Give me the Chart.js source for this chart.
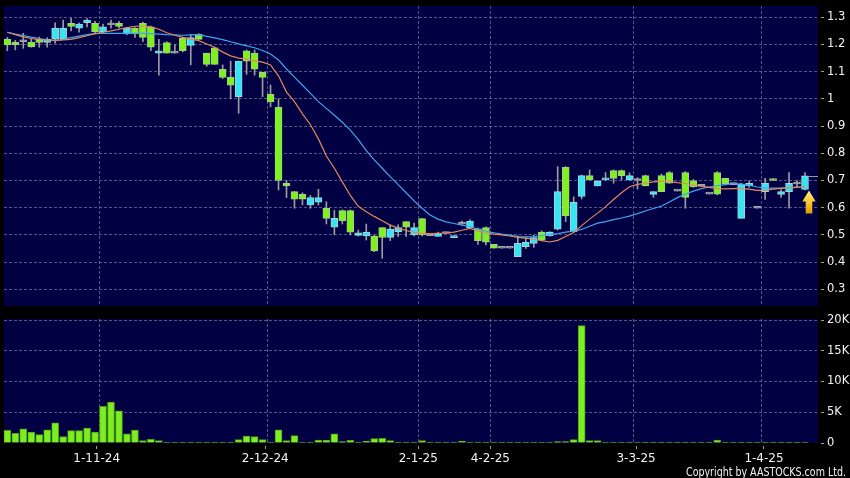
<!DOCTYPE html>
<html><head><meta charset="utf-8">
<script src="https://cdn.jsdelivr.net/npm/chart.js@4.4.1/dist/chart.umd.min.js"></script>
<style>
html,body{margin:0;padding:0;background:#000;width:850px;height:478px;overflow:hidden}
#wrapA{position:absolute;left:0;top:0;width:850px;height:306px}
#wrapB{position:absolute;left:0;top:306px;width:850px;height:172px}
canvas{display:block}
</style></head><body>
<div id="wrapA"><canvas id="price" width="850" height="306"></canvas></div>
<div id="wrapB"><canvas id="vol" width="850" height="172"></canvas></div>
<script>
// ---- data (one entry per trading session) ----
const opens = [1.22,1.208,1.21,1.208,1.219,1.208,1.22,1.22,1.278,1.26,
1.28,1.278,1.247,1.272,1.278,1.239,1.26,1.278,1.265,1.168,
1.207,1.168,1.223,1.197,1.237,1.168,1.188,1.109,1.079,1.008,
1.177,1.168,1.098,1.017,0.969,0.69,0.659,0.649,0.61,0.62,
0.598,0.528,0.589,0.589,0.498,0.496,0.496,0.527,0.491,0.511,
0.549,0.5,0.56,0.497,0.494,0.505,0.49,0.539,0.527,0.522,
0.527,0.465,0.451,0.451,0.42,0.457,0.469,0.51,0.497,0.521,
0.748,0.512,0.641,0.718,0.68,0.702,0.736,0.736,0.702,0.70,
0.718,0.649,0.718,0.729,0.661,0.729,0.699,0.679,0.65,0.729,
0.708,0.685,0.561,0.68,0.598,0.659,0.706,0.649,0.659,0.687,0.667];
const highs = [1.226,1.215,1.241,1.22,1.227,1.225,1.28,1.29,1.296,1.28,
1.295,1.285,1.275,1.29,1.285,1.262,1.262,1.282,1.268,1.219,
1.21,1.2,1.226,1.237,1.24,1.168,1.19,1.125,1.139,1.139,
1.18,1.18,1.098,1.051,1.0,0.70,0.659,0.655,0.645,0.668,
0.622,0.59,0.592,0.592,0.518,0.54,0.5,0.527,0.537,0.537,
0.549,0.543,0.561,0.497,0.51,0.505,0.497,0.551,0.555,0.525,
0.53,0.465,0.451,0.451,0.497,0.49,0.5,0.515,0.512,0.751,
0.751,0.64,0.72,0.739,0.70,0.729,0.739,0.739,0.728,0.71,
0.72,0.659,0.724,0.733,0.661,0.733,0.704,0.679,0.65,0.733,
0.708,0.685,0.69,0.698,0.598,0.708,0.706,0.667,0.729,0.70,0.729];
const lows = [1.177,1.18,1.186,1.19,1.19,1.19,1.205,1.22,1.25,1.245,
1.265,1.24,1.24,1.26,1.26,1.236,1.226,1.21,1.177,1.087,
1.168,1.168,1.173,1.125,1.219,1.12,1.127,1.075,1.0,0.947,
1.09,1.087,1.008,0.971,0.665,0.637,0.598,0.61,0.598,0.61,
0.54,0.5,0.54,0.5,0.496,0.481,0.438,0.414,0.479,0.494,
0.494,0.496,0.496,0.497,0.494,0.505,0.49,0.539,0.525,0.465,
0.463,0.451,0.451,0.451,0.42,0.45,0.454,0.478,0.495,0.518,
0.549,0.508,0.632,0.702,0.68,0.70,0.69,0.702,0.70,0.668,
0.68,0.638,0.659,0.69,0.661,0.598,0.675,0.679,0.65,0.647,
0.687,0.685,0.561,0.675,0.598,0.63,0.70,0.638,0.598,0.675,0.665];
const closes = [1.198,1.198,1.21,1.191,1.208,1.219,1.26,1.26,1.266,1.275,
1.29,1.247,1.265,1.272,1.266,1.26,1.239,1.226,1.19,1.177,
1.168,1.168,1.177,1.225,1.219,1.127,1.127,1.079,1.05,1.139,
1.139,1.109,1.079,0.989,0.70,0.68,0.631,0.631,0.637,0.637,
0.561,0.561,0.552,0.51,0.508,0.51,0.441,0.491,0.521,0.527,
0.528,0.527,0.5,0.497,0.506,0.505,0.497,0.539,0.551,0.479,
0.473,0.451,0.451,0.451,0.469,0.473,0.49,0.481,0.51,0.659,
0.57,0.62,0.718,0.702,0.698,0.708,0.708,0.718,0.718,0.70,
0.68,0.659,0.659,0.69,0.661,0.638,0.677,0.679,0.65,0.65,
0.687,0.685,0.687,0.69,0.598,0.69,0.70,0.659,0.69,0.687,0.717];
const volumes = [2050,1570,2320,1780,1350,2160,3300,1030,2000,2000,
2430,1780,5950,6650,5240,1510,2100,380,600,380,
160,160,50,160,20,30,100,50,160,540,
1130,1030,540,160,2160,380,1190,160,20,490,
490,1510,220,430,160,320,700,760,380,160,
30,20,380,10,10,50,10,320,20,20,
20,20,10,10,160,50,50,20,20,220,
220,540,19080,380,380,20,100,100,50,160,
20,20,100,20,10,100,20,10,20,490,
20,10,50,20,10,20,20,20,50,50,20];
const maShort = [1.245,1.236,1.228,1.222,1.218,1.216,1.215,1.217,1.219,1.225,
1.232,1.240,1.245,1.250,1.256,1.262,1.267,1.268,1.265,1.256,
1.243,1.234,1.226,1.220,1.214,1.202,1.190,1.172,1.158,1.150,
1.146,1.140,1.135,1.125,1.085,1.025,0.990,0.945,0.905,0.853,
0.790,0.745,0.695,0.645,0.605,0.585,0.568,0.552,0.536,0.525,
0.516,0.509,0.505,0.505,0.506,0.507,0.510,0.517,0.524,0.515,
0.507,0.503,0.500,0.496,0.491,0.488,0.484,0.479,0.474,0.480,
0.494,0.509,0.534,0.558,0.580,0.604,0.630,0.655,0.677,0.686,
0.690,0.695,0.698,0.697,0.692,0.689,0.683,0.679,0.675,0.670,
0.669,0.670,0.671,0.668,0.664,0.664,0.668,0.671,0.673,0.675,0.677];
const maLong = [1.245,1.238,1.233,1.227,1.222,1.217,1.214,1.219,1.225,1.231,
1.236,1.240,1.241,1.241,1.241,1.241,1.241,1.241,1.240,1.238,
1.236,1.235,1.234,1.235,1.236,1.230,1.224,1.218,1.210,1.202,
1.195,1.188,1.178,1.165,1.143,1.110,1.080,1.050,1.020,0.990,
0.965,0.940,0.914,0.885,0.850,0.810,0.776,0.745,0.714,0.685,
0.655,0.625,0.598,0.573,0.558,0.548,0.542,0.536,0.530,0.521,
0.513,0.508,0.503,0.499,0.494,0.493,0.493,0.497,0.501,0.505,
0.510,0.514,0.520,0.532,0.543,0.549,0.556,0.562,0.569,0.578,
0.588,0.597,0.606,0.621,0.637,0.650,0.661,0.670,0.676,0.681,
0.685,0.689,0.687,0.683,0.676,0.673,0.672,0.672,0.674,0.676,0.678];
const dateLabels = ['1-11-24','2-12-24','2-1-25','4-2-25','3-3-25','1-4-25'];
const dateTickIdx = [11.21,32.34,51.52,60.55,78.82,94.86];
const dateGridIdx = [11.53,32.59,51.51,60.54,78.46,94.51];
const priceTicks = [0.3,0.4,0.5,0.6,0.7,0.8,0.9,1.0,1.1,1.2,1.3];
const volumeTicks = [0,5000,10000,15000,20000];
const COPYRIGHT = 'Copyright by AASTOCKS.com Ltd.';

// ---- styles ----
const GREEN = '#7df21b', CYAN = '#38e4f2', DOJI = '#a8a8a8', WICK = '#9c9c9c';
const GRID = 'rgba(118,118,160,0.72)', NAVY = '#000042', TXT = '#f2f2f2', TICKC = '#a0a0a0';
const FONT = "'DejaVu Sans', sans-serif";
const X_MIN = -0.414, X_MAX = 101.63;

const navyBg = {id:'navyBg', beforeDraw(c){const a=c.chartArea, ctx=c.ctx; ctx.save(); ctx.fillStyle=NAVY; ctx.fillRect(a.left,a.top,a.right-a.left,a.bottom-a.top); ctx.restore();}};

const lastMarker = {
  id:'lastMarker',
  afterDatasetsDraw(chart){
    const {ctx, chartArea:a, scales:{x,y}} = chart;
    const n = closes.length-1;
    const cx = x.getPixelForValue(n);
    const yc = Math.round(y.getPixelForValue(closes[n]))+0.5;
    ctx.save();
    ctx.strokeStyle = WICK; ctx.lineWidth = 1;
    ctx.beginPath(); ctx.moveTo(cx+3.5, yc); ctx.lineTo(a.right, yc); ctx.stroke();
    const tx = cx+4, ty = y.getPixelForValue(lows[n])+0.5;
    const g = ctx.createLinearGradient(0, ty, 0, ty+23);
    g.addColorStop(0,'#fff27e'); g.addColorStop(0.5,'#f8c832'); g.addColorStop(1,'#e39a00');
    ctx.fillStyle = g;
    ctx.beginPath();
    ctx.moveTo(tx,ty); ctx.lineTo(tx+6.7,ty+11); ctx.lineTo(tx+3.3,ty+11); ctx.lineTo(tx+3.3,ty+23);
    ctx.lineTo(tx-3.3,ty+23); ctx.lineTo(tx-3.3,ty+11); ctx.lineTo(tx-6.7,ty+11); ctx.closePath();
    ctx.fill();
    ctx.restore();
  }
};

const copyrightPlugin = {
  id:'copyright',
  afterDraw(chart){
    const ctx = chart.ctx;
    ctx.save();
    ctx.font = "12px 'DejaVu Sans', sans-serif";
    ctx.fillStyle = TXT; ctx.textAlign = 'right'; ctx.textBaseline = 'alphabetic';
    ctx.fillText(COPYRIGHT, 846, chart.height - 2.5, 160);
    ctx.restore();
  }
};

function candleColor(ctx){
  const i = ctx.dataIndex;
  if (i === undefined) return GREEN;
  const o = opens[i], c = closes[i];
  return c > o ? CYAN : (c < o ? GREEN : DOJI);
}
function candleBorder(ctx){
  const i = ctx.dataIndex;
  if (i === undefined) return DOJI;
  const o = opens[i], c = closes[i];
  return c > o ? '#9fd6dc' : (c < o ? '#a6cf8c' : DOJI);
}
function zeroPad(s){ s.paddingTop = 0; s.paddingBottom = 0; s.paddingLeft = 0; s.paddingRight = 0; }

new Chart(document.getElementById('price'), {
  type:'bar',
  plugins:[navyBg, lastMarker],
  data:{datasets:[
    {type:'line', data: maShort.map((v,i)=>({x:i,y:v})), borderColor:'#e3895e', borderWidth:1.2, pointRadius:0, tension:0, order:0},
    {type:'line', data: maLong.map((v,i)=>({x:i,y:v})), borderColor:'#3fa6ee', borderWidth:1.2, pointRadius:0, tension:0, order:0},
    {data: opens.map((o,i)=>({x:i,y:[o,closes[i]]})), backgroundColor:candleColor, borderColor:candleBorder, borderWidth:1,
     borderSkipped:false, barThickness:7, minBarLength:2, grouped:false, order:1},
    {data: lows.map((l,i)=>({x:i,y:[l,highs[i]]})), backgroundColor:WICK, borderWidth:0, barThickness:1, grouped:false, order:2}
  ]},
  options:{
    responsive:false, animation:false, devicePixelRatio:1,
    layout:{padding:{left:4, top:6, right:0, bottom:0}},
    plugins:{legend:{display:false}, tooltip:{enabled:false}},
    scales:{
      x:{type:'linear', min:X_MIN, max:X_MAX, offset:false,
         afterBuildTicks:s=>{s.ticks = dateGridIdx.map(v=>({value:v}));},
         afterFit:s=>{s.height = 0; zeroPad(s);},
         ticks:{display:false},
         grid:{offset:false, color:GRID, drawTicks:false, lineWidth:1},
         border:{display:false, dash:[3,2]}},
      y:{type:'linear', position:'right', min:0.2386, max:1.3415,
         afterBuildTicks:s=>{s.ticks = priceTicks.map(v=>({value:v}));},
         afterFit:s=>{s.width = 32; zeroPad(s);},
         ticks:{color:TXT, font:{family:FONT, size:11.5}, padding:3, callback:v=>String(Math.round(v*10)/10)},
         grid:{color:GRID, tickColor:TICKC, tickLength:6, tickBorderDash:[0,3,3,100]},
         border:{display:false, dash:[3,2]}}
    }
  }
});

new Chart(document.getElementById('vol'), {
  type:'bar',
  plugins:[navyBg, copyrightPlugin],
  data:{datasets:[
    {data: volumes.map((v,i)=>({x:i,y:v})), backgroundColor:'#7cf01e', borderColor:'#4f9f1c', borderWidth:1,
     borderSkipped:'bottom', barThickness:7, minBarLength:1, grouped:false}
  ]},
  options:{
    responsive:false, animation:false, devicePixelRatio:1,
    layout:{padding:{left:4, top:13, right:0, bottom:0}},
    plugins:{legend:{display:false}, tooltip:{enabled:false}},
    scales:{
      x:{type:'linear', min:X_MIN, max:X_MAX, offset:false,
         afterBuildTicks:s=>{s.ticks = dateGridIdx.map(v=>({value:v}));},
         afterFit:s=>{s.height = 0; zeroPad(s);},
         ticks:{display:false},
         grid:{offset:false, color:GRID, drawTicks:false},
         border:{display:false, dash:[3,2]}},
      x2:{type:'linear', position:'bottom', min:X_MIN, max:X_MAX, offset:false,
         afterBuildTicks:s=>{s.ticks = dateTickIdx.map(v=>({value:v}));},
         afterFit:s=>{s.height = 35; zeroPad(s);},
         ticks:{color:TXT, font:{family:FONT, size:12}, padding:3, autoSkip:false, maxRotation:0,
                callback:(v,i)=>dateLabels[i]},
         grid:{offset:false, drawOnChartArea:false, drawTicks:true, tickColor:TICKC, tickLength:6, tickBorderDash:[0,3,3,100]},
         border:{display:false}},
      y:{type:'linear', position:'right', min:0, max:20163,
         afterBuildTicks:s=>{s.ticks = volumeTicks.map(v=>({value:v}));},
         afterFit:s=>{s.width = 32; zeroPad(s);},
         ticks:{color:TXT, font:{family:FONT, size:11.5}, padding:3, callback:v=> v===0 ? '0' : (v/1000)+'K'},
         grid:{color:c=> c.tick && c.tick.value===0 ? 'rgba(0,0,0,0)' : GRID, tickColor:TICKC, tickLength:6, tickBorderDash:[0,3,3,100]},
         border:{display:false, dash:[3,2]}}
    }
  }
});
</script>
</body></html>
